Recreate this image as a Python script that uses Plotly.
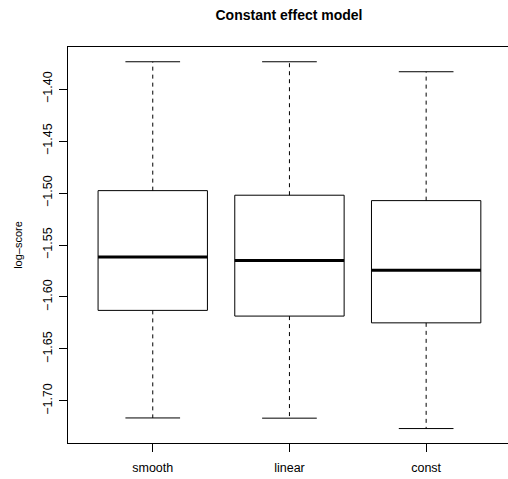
import plotly.graph_objects as go

categories = ["smooth", "linear", "const"]
upper = [-1.3737, -1.3737, -1.3833]
q3 = [-1.4977, -1.5021, -1.5073]
median = [-1.5616, -1.5648, -1.5744]
q1 = [-1.6129, -1.6184, -1.6249]
lower = [-1.7164, -1.7166, -1.7266]
yticks = [-1.40, -1.45, -1.50, -1.55, -1.60, -1.65, -1.70]

BW = 0.4   # half box width
CW = 0.2   # half cap width

fig = go.Figure()
for i, name in enumerate(categories):
    x0 = i + 1
    # dashed whiskers
    fig.add_trace(go.Scatter(x=[x0, x0, None, x0, x0],
                             y=[q3[i], upper[i], None, q1[i], lower[i]],
                             mode="lines", line=dict(color="black", width=1, dash="4px,4px"),
                             showlegend=False, hoverinfo="skip"))
    # caps
    fig.add_trace(go.Scatter(x=[x0 - CW, x0 + CW, None, x0 - CW, x0 + CW],
                             y=[upper[i], upper[i], None, lower[i], lower[i]],
                             mode="lines", line=dict(color="black", width=1),
                             showlegend=False, hoverinfo="skip"))
    # box
    fig.add_trace(go.Scatter(x=[x0 - BW, x0 + BW, x0 + BW, x0 - BW, x0 - BW],
                             y=[q1[i], q1[i], q3[i], q3[i], q1[i]],
                             mode="lines", line=dict(color="black", width=1),
                             showlegend=False, hoverinfo="skip"))
    # median
    fig.add_trace(go.Scatter(x=[x0 - BW, x0 + BW], y=[median[i], median[i]],
                             mode="lines", line=dict(color="black", width=3),
                             showlegend=False, hoverinfo="skip"))

font = "Liberation Sans, Arial, Helvetica, sans-serif"
fig.update_layout(
    width=508, height=479,
    margin=dict(l=68, r=0, t=47, b=36),
    plot_bgcolor="white", paper_bgcolor="white",
    font=dict(family=font, size=12, color="black"),
    title=dict(text="<b>Constant effect model</b>", x=289 / 508, xanchor="center",
               y=1 - 15 / 479, yanchor="middle", font=dict(size=14, family=font, color="black")),
    xaxis=dict(range=[0.38, 0.38 + 440 / 136.7], showgrid=False, zeroline=False,
               tickvals=[1, 2, 3], ticktext=categories,
               ticks="outside", ticklen=8, tickcolor="black", tickwidth=1,
               showline=True, linecolor="black", linewidth=1, mirror=True,
               ticklabelstandoff=5, tickfont=dict(size=12.5)),
    yaxis=dict(range=[-1.7405, -1.3595], showgrid=False, zeroline=False,
               tickvals=yticks, ticktext=[f"{v:.2f}".replace("-", "\u2212") for v in yticks],
               ticks="outside", ticklen=8, tickcolor="black", tickwidth=1,
               showline=True, linecolor="black", linewidth=1, mirror=False,
               tickangle=-90, ticklabelstandoff=2, tickfont=dict(size=12.5),
               title=dict(text="log\u2013score", font=dict(size=11), standoff=16)),
)

fig.write_html("out.html", config={"displayModeBar": False},
               post_script="document.body.style.margin='0';document.body.style.padding='0';"
                           "document.body.style.overflow='hidden';")
